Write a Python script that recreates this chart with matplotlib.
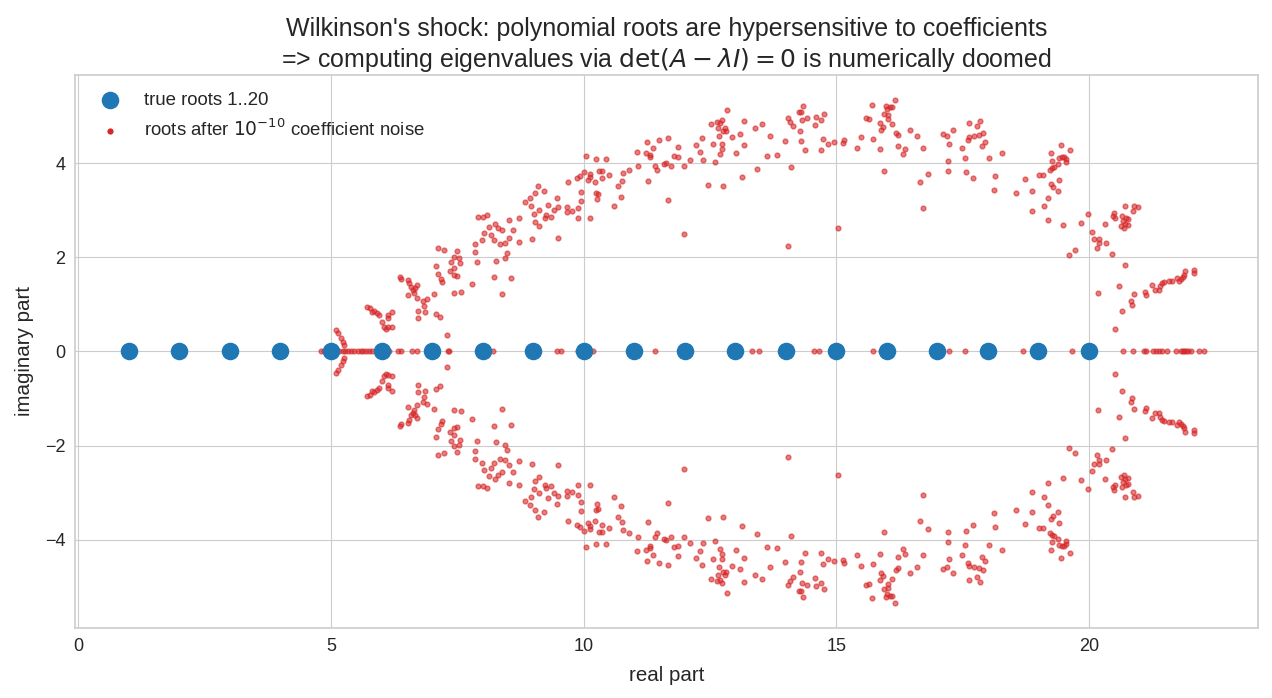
import matplotlib
matplotlib.use("Agg")
import matplotlib.pyplot as plt
import numpy as np

# true roots of Wilkinson's polynomial
true_roots = list(range(1, 21))

# perturbed roots: real ones ...
real_roots = [4.80, 4.87, 5.05, 5.10, 5.16, 5.23, 5.28, 5.33, 5.40, 5.46, 5.53,
              5.59, 5.64, 5.69, 5.76, 5.82, 6.15, 6.32, 6.38, 6.61, 6.71, 7.31,
              7.34, 8.20, 9.48, 9.55, 9.88, 10.18, 11.42, 13.34, 13.47, 14.56,
              14.66, 15.73, 15.88, 17.23, 17.55, 18.70, 19.66, 20.68, 20.88,
              21.09, 21.12, 21.26, 21.32, 21.39, 21.45, 21.54, 21.72, 21.82,
              21.85, 21.88, 21.92, 21.95, 22.01, 22.18, 22.28]

# ... and the upper half of the complex ones (the lower half are conjugates)
up_re = [5.10, 5.14, 5.20, 5.24, 5.26, 5.72, 5.78, 5.86, 5.91, 5.96, 6.00, 6.04,
         6.09, 6.12, 6.12, 6.12, 6.21, 6.21, 5.82, 6.37, 6.38, 6.52, 6.55, 6.58,
         6.62, 6.53, 6.65, 6.71, 6.70, 6.83, 6.90, 6.85, 6.73, 6.87, 6.73, 7.04,
         7.08, 7.16, 7.30, 6.66, 7.12, 7.24, 7.08, 7.11, 7.18, 7.19, 7.50, 7.43,
         7.54, 7.37, 7.55, 7.36, 7.44, 7.49, 7.44, 7.44, 7.58, 7.80, 7.85, 7.85,
         7.89, 7.91, 8.01, 8.09, 7.98, 8.03, 8.13, 8.16, 8.25, 8.30, 8.38, 8.23,
         8.35, 8.44, 8.53, 8.53, 8.61, 8.72, 8.72, 8.49, 8.45, 8.27, 8.22, 8.57,
         8.39, 8.84, 8.94, 8.96, 9.04, 9.09, 9.22, 9.12, 9.01, 9.04, 9.11, 9.25,
         9.30, 8.98, 9.23, 9.48, 9.50, 9.42, 9.36, 9.50, 9.67, 9.68, 9.76, 9.88,
         9.88, 9.70, 9.86, 9.93, 10.01, 10.05, 10.08, 10.13, 10.13, 10.23, 10.25,
         10.44, 10.31, 10.37, 10.37, 10.50, 9.95, 9.95, 10.13, 10.25, 10.29,
         10.27, 10.60, 10.68, 10.74, 10.76, 10.77, 10.90, 11.06, 11.07, 11.24,
         11.26, 11.28, 11.32, 11.32, 11.38, 11.42, 11.45, 11.50, 11.59, 11.63,
         11.66, 11.67, 11.72, 11.79, 11.87, 11.87, 11.99, 11.99, 12.11, 12.23,
         12.31, 12.35, 12.36, 12.46, 12.52, 12.56, 12.60, 12.63, 12.66, 12.68,
         12.70, 12.74, 12.74, 12.74, 12.70, 12.76, 12.76, 12.80, 12.82, 12.84,
         12.94, 13.02, 13.10, 13.14, 13.18, 13.18, 13.39, 13.43, 13.53, 13.63,
         13.69, 13.83, 13.98, 14.04, 14.08, 14.14, 14.10, 14.04, 14.26, 14.31,
         14.34, 14.32, 14.42, 14.28, 14.30, 14.38, 14.58, 14.60, 14.70, 14.76,
         14.74, 14.70, 14.83, 14.95, 15.03, 15.13, 15.15, 15.41, 15.49, 15.59,
         15.65, 15.70, 15.72, 15.86, 15.88, 15.92, 15.86, 15.94, 15.98, 16.00,
         16.02, 16.02, 16.06, 16.11, 16.16, 16.10, 16.19, 16.22, 15.94, 16.22,
         16.32, 16.36, 16.46, 16.59, 16.71, 16.65, 16.81, 16.71, 17.11, 17.19,
         17.31, 17.23, 17.21, 17.21, 17.49, 17.54, 17.56, 17.60, 17.62, 17.62,
         17.70, 17.72, 17.78, 17.82, 17.84, 17.90, 17.88, 17.94, 18.02, 18.14,
         18.12, 18.28, 18.73, 18.55, 18.87, 18.87, 19.11, 19.19, 19.19, 19.01,
         19.09, 19.23, 19.27, 19.30, 19.38, 19.40, 19.46, 19.50, 19.54, 19.54,
         19.27, 19.25, 19.44, 19.62, 19.24, 19.29, 19.40, 19.38, 19.48, 19.84,
         19.98, 20.06, 20.10, 20.20, 20.20, 20.16, 20.33, 20.31, 20.46, 19.60,
         19.72, 20.47, 20.49, 20.51, 20.65, 20.71, 20.73, 20.77, 20.67, 20.63,
         20.71, 20.77, 20.69, 20.87, 20.89, 20.97, 20.71, 20.18, 20.59, 20.51,
         20.65, 20.83, 20.85, 20.89, 21.11, 21.13, 21.24, 21.30, 21.38, 21.40,
         21.44, 21.48, 21.58, 21.64, 21.74, 21.78, 21.82, 21.86, 21.88, 21.90,
         22.07, 22.07]
up_im = [0.46, 0.39, 0.28, 0.20, 0.13, 0.95, 0.92, 0.86, 0.81, 0.78, 0.63, 0.53,
         0.48, 0.51, 0.71, 0.78, 0.83, 0.53, 0.83, 1.59, 1.55, 1.52, 1.45, 1.36,
         1.31, 1.19, 1.24, 1.41, 1.14, 1.07, 1.12, 0.97, 0.87, 0.83, 0.71, 1.22,
         0.79, 0.74, 0.34, 1.34, 2.20, 2.16, 1.82, 1.65, 1.54, 1.48, 2.14, 2.01,
         1.98, 1.91, 1.87, 1.72, 1.78, 1.61, 1.63, 1.24, 1.27, 1.43, 2.28, 2.11,
         1.91, 2.85, 2.85, 2.90, 2.37, 2.51, 2.65, 2.47, 2.71, 2.63, 2.57, 2.37,
         2.28, 2.30, 2.42, 2.80, 2.57, 2.84, 2.33, 2.10, 1.98, 1.93, 1.59, 1.57,
         1.22, 3.17, 3.27, 3.10, 3.36, 3.52, 3.41, 3.01, 2.92, 2.76, 2.67, 2.90,
         3.11, 2.39, 2.83, 3.25, 3.06, 3.01, 2.85, 2.42, 3.07, 2.97, 2.99, 3.04,
         2.83, 3.60, 3.68, 3.73, 3.82, 4.16, 3.65, 3.78, 3.71, 3.60, 4.09,
         4.09, 3.84, 3.84, 3.69, 3.75, 3.39, 3.19, 2.84, 3.37, 3.34,
         3.23, 3.10, 3.52, 3.29, 3.63, 3.80, 3.86, 4.24, 3.94, 4.22,
         4.45, 3.63, 4.17, 4.14, 4.33, 3.94, 3.86, 4.49, 3.99, 4.01,
         4.54, 3.22, 3.95, 4.16, 4.14, 4.35, 3.94, 2.50, 4.07, 4.39,
         4.24, 4.54, 4.07, 3.54, 4.84, 4.41, 4.03, 4.88, 4.75, 4.58,
         4.86, 4.91, 4.41, 4.30, 4.20, 4.68, 3.52, 4.75, 4.68, 5.13,
         4.56, 4.22, 4.62, 3.71, 4.90, 4.39, 4.75, 3.88, 4.84, 4.16,
         4.58, 4.18, 4.47, 4.97, 4.88, 4.79, 3.92, 2.25, 5.08, 5.09,
         5.22, 4.92, 4.96, 4.69, 4.47, 4.28, 4.81, 4.98, 4.92, 5.05,
         4.52, 4.28, 4.41, 4.45, 2.63, 4.43, 4.49, 4.33, 4.56, 4.96,
         4.94, 5.24, 4.52, 4.86, 4.71, 4.77, 4.30, 5.05, 5.22, 5.16,
         5.03, 4.94, 5.20, 5.20, 5.34, 4.83, 4.64, 4.60, 3.84, 4.37,
         4.20, 4.30, 4.71, 4.58, 4.33, 3.60, 3.77, 3.05, 4.62, 4.58,
         4.71, 4.41, 4.05, 3.84, 4.33, 4.11, 3.82, 4.50, 4.86, 4.56,
         3.69, 4.58, 4.79, 4.60, 4.90, 4.64, 4.37, 4.45, 4.11, 3.73,
         3.44, 4.22, 3.67, 3.37, 3.41, 2.99, 3.10, 3.27, 2.80, 3.75,
         3.75, 3.86, 3.90, 3.92, 3.99, 4.11, 4.13, 4.13, 4.03, 4.09,
         4.05, 4.22, 4.39, 4.28, 3.56, 3.50, 3.65, 3.41, 2.69, 2.73,
         2.93, 2.54, 2.40, 2.40, 2.31, 2.20, 2.31, 2.71, 2.08, 2.06,
         2.16, 2.88, 2.95, 2.84, 2.87, 3.10, 2.84, 2.82, 2.78, 2.67,
         2.71, 2.69, 2.63, 2.99, 3.10, 3.07, 1.84, 1.25, 1.40, 0.47,
         0.85, 1.08, 0.99, 1.23, 1.27, 1.21, 1.42, 1.30, 1.30, 1.40,
         1.46, 1.48, 1.50, 1.50, 1.57, 1.50, 1.55, 1.59, 1.63, 1.70,
         1.74, 1.67]

up_re = np.array(up_re)
up_im = np.array(up_im)
noisy_re = np.concatenate([real_roots, up_re, up_re])
noisy_im = np.concatenate([np.zeros(len(real_roots)), up_im, -up_im])

plt.style.use("seaborn-v0_8-whitegrid")
plt.rcParams["font.family"] = ["Liberation Sans", "DejaVu Sans"]
plt.rcParams["text.color"] = "#262626"
plt.rcParams["axes.labelcolor"] = "#262626"
plt.rcParams["xtick.color"] = "#262626"
plt.rcParams["ytick.color"] = "#262626"

fig = plt.figure(figsize=(12.72, 6.98), dpi=100)
ax = fig.add_axes([0.059, 0.1003, 0.93, 0.7923])

ax.scatter(true_roots, np.zeros(len(true_roots)), s=135, color="#1f77b4",
           zorder=3, label="true roots 1..20")
ax.scatter(noisy_re, noisy_im, s=12, color="#d62728", alpha=0.6,
           zorder=2, label=r"roots after $10^{-10}$ coefficient noise")

ax.set_xticks([0, 5, 10, 15, 20])
ax.set_yticks([-4, -2, 0, 2, 4])
ax.tick_params(labelsize=13, pad=7)
ax.set_xlabel("real part", fontsize=14.8, labelpad=8)
ax.set_ylabel("imaginary part", fontsize=14.8, labelpad=8)
ax.set_title("Wilkinson's shock: polynomial roots are hypersensitive to coefficients\n"
             r"=> computing eigenvalues via $\det(A - \lambda I) = 0$ is numerically doomed",
             fontsize=18)

for s in ax.spines.values():
    s.set_color("#cccccc")
    s.set_linewidth(1.2)

leg = ax.legend(loc="upper left", fontsize=13.4, frameon=False)
for h in leg.legend_handles:
    h.set_alpha(1)

fig.savefig("out.png", dpi=100)
